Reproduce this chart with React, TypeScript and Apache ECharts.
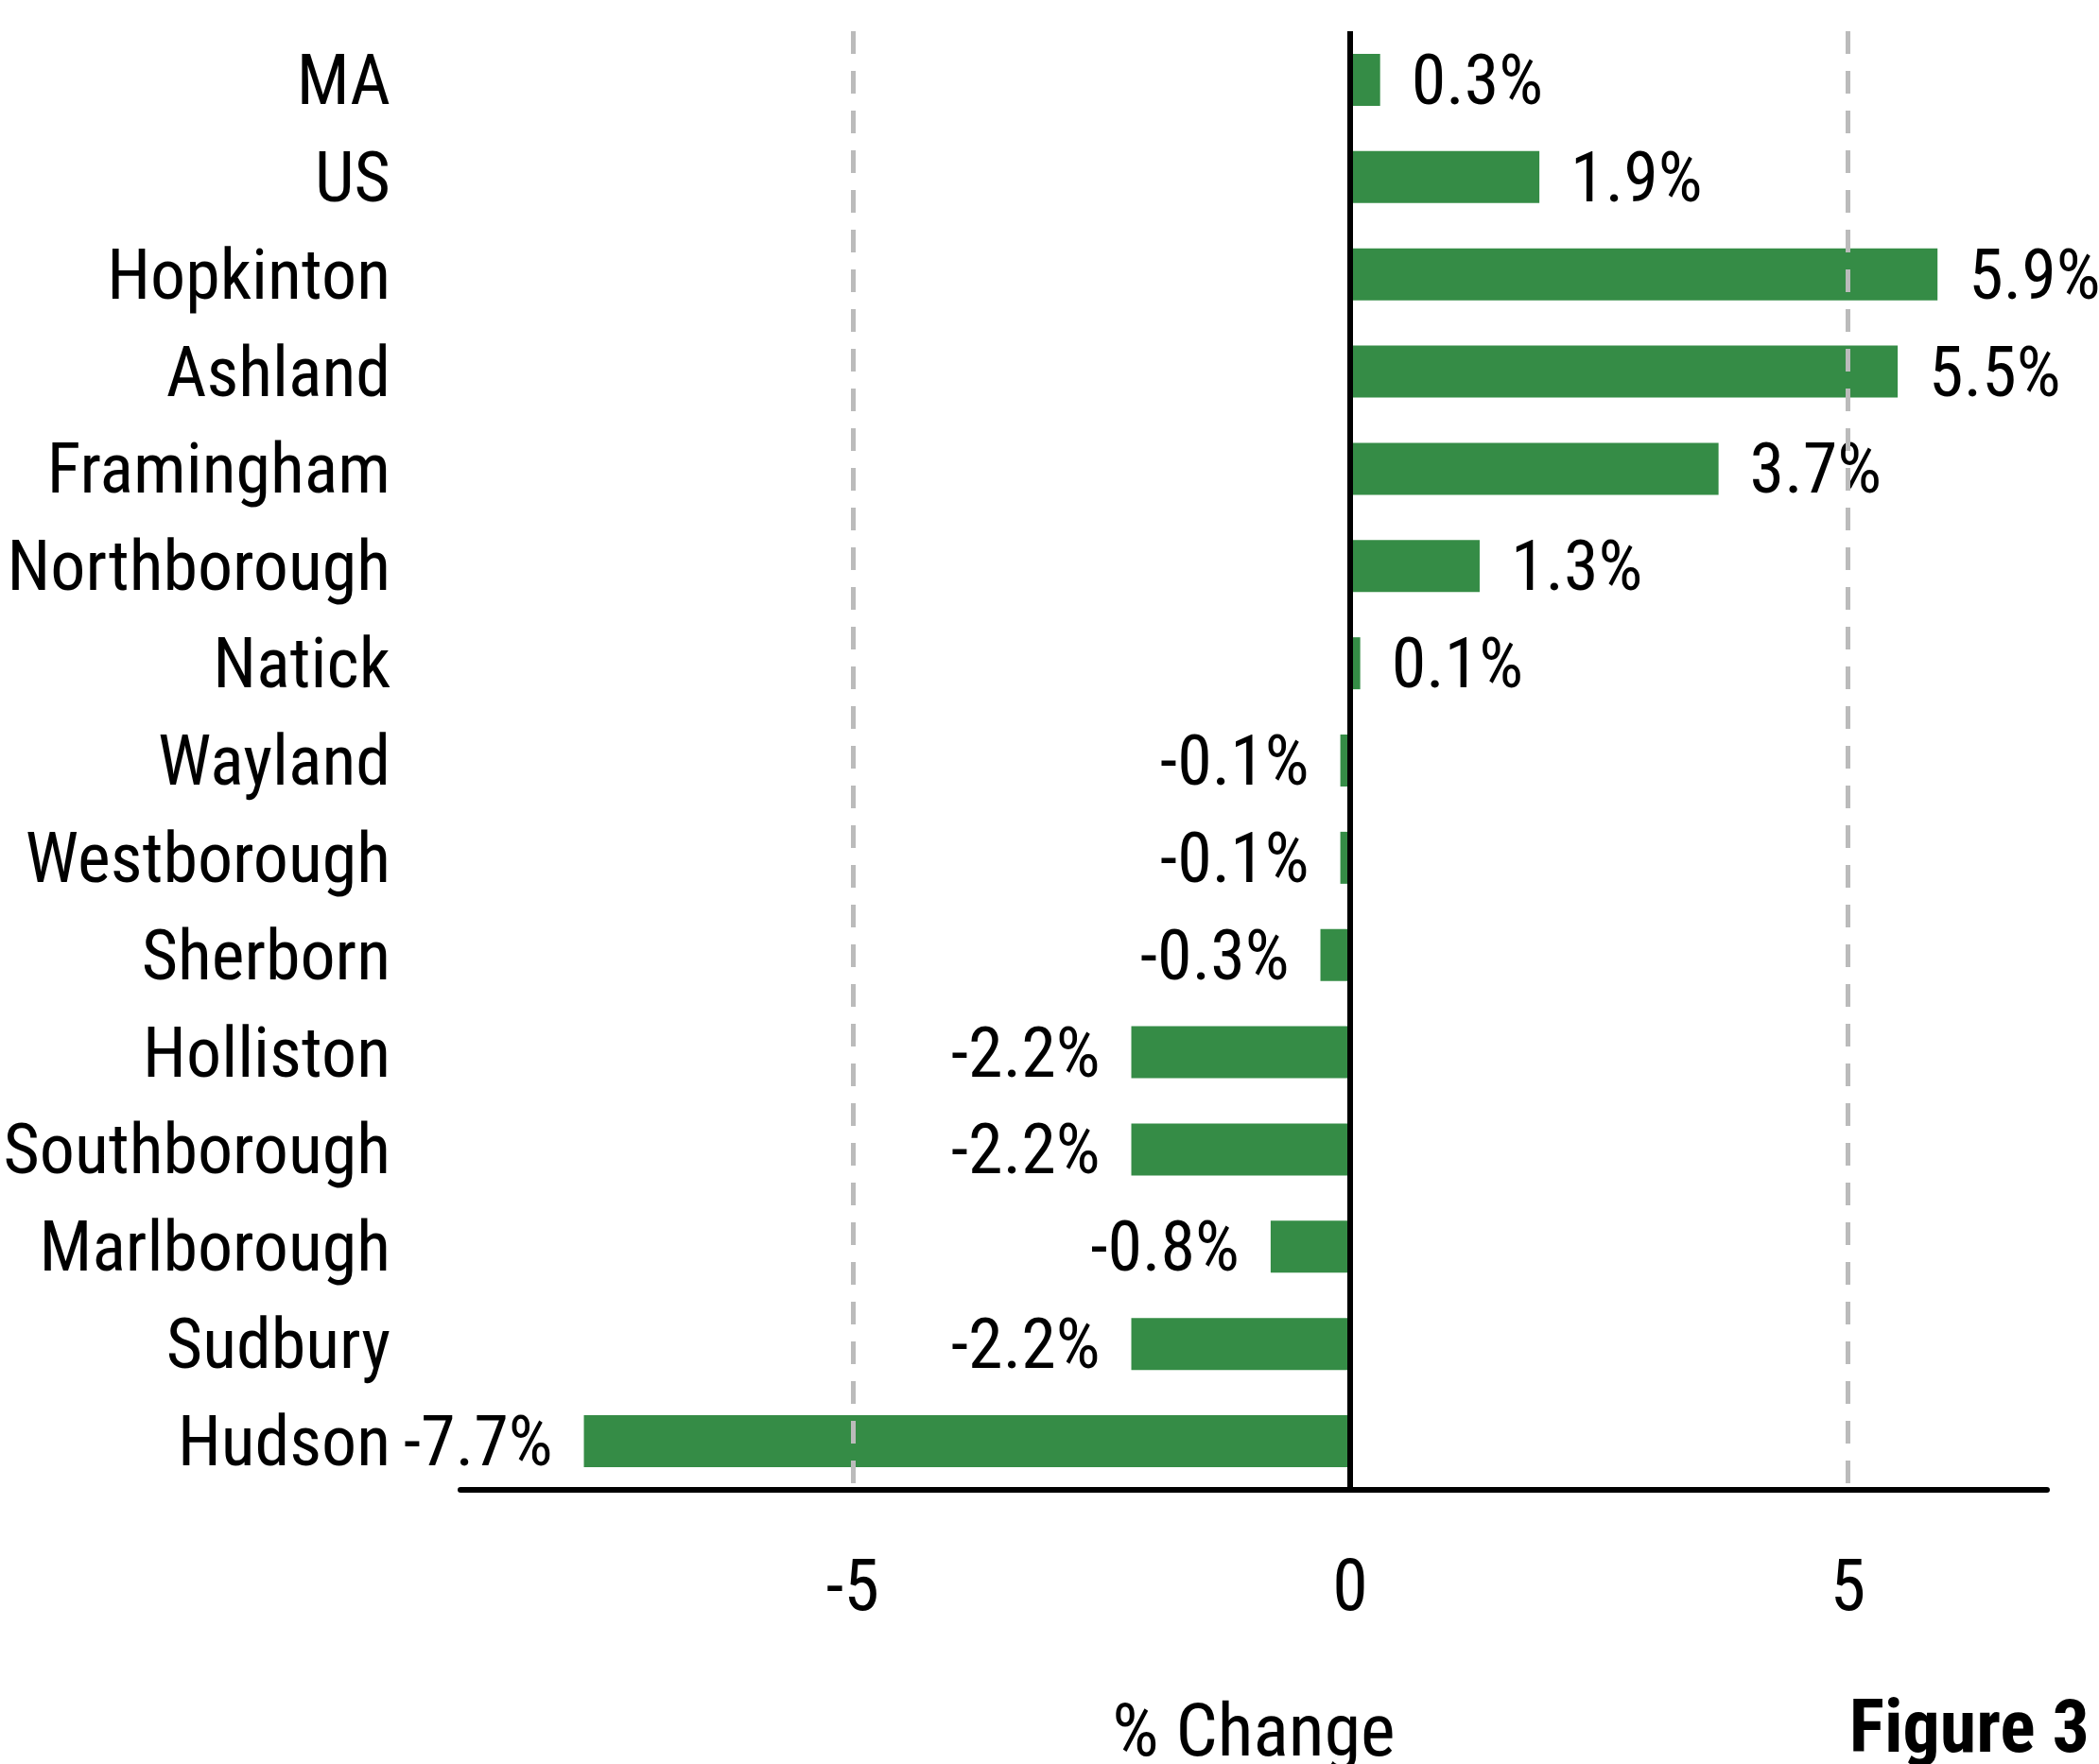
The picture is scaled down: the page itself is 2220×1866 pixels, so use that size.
import React, { useEffect, useRef } from "react";
import * as echarts from "echarts";

const categories = [
  "MA", "US", "Hopkinton", "Ashland", "Framingham", "Northborough", "Natick",
  "Wayland", "Westborough", "Sherborn", "Holliston", "Southborough",
  "Marlborough", "Sudbury", "Hudson",
];
const values = [0.3, 1.9, 5.9, 5.5, 3.7, 1.3, 0.1, -0.1, -0.1, -0.3, -2.2, -2.2, -0.8, -2.2, -7.7];
const tickValues = [-5, 0, 5];
const gridValues = [-5, 5];

const FONT = "'Roboto Condensed', 'Liberation Sans Narrow', 'DejaVu Sans Condensed', sans-serif";
const FS = 74;
const TICK_FS = 76;
const NAME_FS = 78;
const GREEN = "#358C46";

export default function App() {
  const ref = useRef<HTMLDivElement>(null);
  useEffect(() => {
    if (!ref.current) return;
    const chart = echarts.init(ref.current, null, { renderer: "svg" });
    chart.setOption({
      animation: false,
      backgroundColor: "#ffffff",
      grid: {
        left: 487,
        top: 33,
        width: 1678,
        height: 1543,
        containLabel: false,
        outerBoundsMode: "none",
      },
      xAxis: {
        type: "value",
        min: -8.94,
        max: 7.0,
        name: "% Change",
        nameLocation: "middle",
        nameGap: 215,
        nameTextStyle: { fontFamily: FONT, fontSize: NAME_FS, color: "#000", lineHeight: NAME_FS },
        axisLine: { show: true, onZero: false, lineStyle: { color: "#000", width: 6 } },
        axisTick: { show: false },
        splitLine: { show: false },
        axisLabel: {
          customValues: tickValues,
          formatter: (v: number) => String(v),
          fontFamily: FONT,
          fontSize: TICK_FS,
          lineHeight: TICK_FS,
          color: "#000",
          margin: 63,
        },
      },
      yAxis: {
        type: "category",
        data: categories,
        inverse: true,
        axisLine: { show: false, onZero: false },
        axisTick: { show: false },
        splitLine: { show: false },
        axisLabel: {
          fontFamily: FONT,
          fontSize: FS,
          lineHeight: FS,
          color: "#000",
          margin: 74,
        },
      },
      series: [
        {
          type: "line",
          data: [],
          z: 1,
          silent: true,
          markLine: {
            silent: true,
            symbol: "none",
            label: { show: false },
            lineStyle: { color: "#BBBBBB", width: 5, type: [24, 18] },
            data: gridValues.map((v) => ({ xAxis: v })),
          },
        },
        {
          type: "bar",
          z: 2,
          barWidth: 55,
          itemStyle: { color: GREEN },
          data: values.map((v) => ({
            value: v,
            label: { position: v < 0 ? "left" : "right" },
          })),
          label: {
            show: true,
            distance: 33,
            formatter: (p: any) => p.value.toFixed(1) + "%",
            fontFamily: FONT,
            fontSize: FS,
            lineHeight: FS,
            color: "#000",
          },
          markLine: {
            silent: true,
            symbol: "none",
            label: { show: false },
            lineStyle: { color: "#000", width: 6, type: "solid" },
            data: [{ xAxis: 0 }],
          },
        },
      ],
      graphic: [
        {
          type: "text",
          x: 2210,
          y: 1826,
          style: {
            text: "Figure 3",
            fontFamily: FONT,
            fontWeight: "bold",
            fontSize: 78,
            fill: "#000",
            align: "right",
            verticalAlign: "middle",
          },
        },
      ],
    });
    return () => chart.dispose();
  }, []);
  return (
    <div
      ref={ref}
      style={{ position: "absolute", left: 0, top: 0, width: 2220, height: 1866 }}
    />
  );
}
